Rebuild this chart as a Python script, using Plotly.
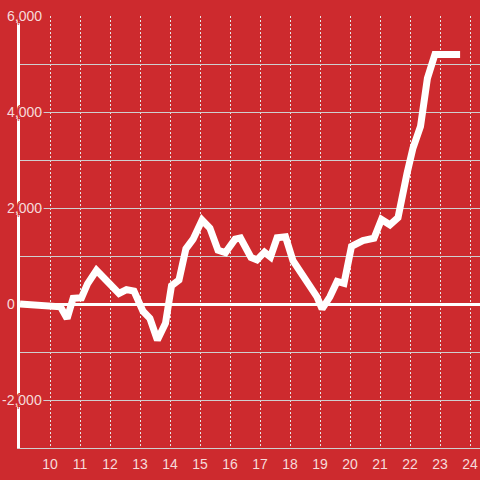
import plotly.graph_objects as go

# ---- data ----
x_vals = [9.0, 9.95, 10.35, 10.57, 10.77, 11.05, 11.25, 11.55, 11.9, 12.3,
          12.55, 12.8, 13.1, 13.33, 13.58, 13.85, 14.05, 14.3, 14.53, 14.77,
          15.07, 15.33, 15.6, 15.85, 16.17, 16.35, 16.7, 16.9, 17.15, 17.35,
          17.57, 17.85, 18.1, 18.43, 18.67, 18.9, 19.07, 19.33, 19.57, 19.8,
          20.05, 20.43, 20.8, 21.05, 21.33, 21.6, 21.9, 22.1, 22.35, 22.58,
          22.83, 23.67]
y_vals = [0, -20, -60, -300, 120, 130, 420, 700, 470, 220,
          300, 270, -150, -300, -750, -400, 380, 500, 1150, 1350,
          1750, 1580, 1120, 1070, 1350, 1375, 970, 920, 1080, 980,
          1380, 1400, 900, 600, 400, 150, -100, 150, 470, 430,
          1200, 1320, 1370, 1760, 1650, 1800, 2720, 3250, 3700, 4700,
          5200, 5200]

x_ticks = [10, 11, 12, 13, 14, 15, 16, 17, 18, 19, 20, 21, 22, 23, 24]
x_tick_labels = [str(v) for v in x_ticks]
y_ticks = [6000, 4000, 2000, 0, -2000]
y_tick_labels = ["6,000", "4,000", "2,000", "0", "-2,000"]

# ---- styling ----
BG = "#cd2a2e"
LABEL = "#f6dada"
FONT = "'Liberation Sans', Arial, sans-serif"
L, R, T, B = 20, 0, 16, 32
W = H = 480
halo = ", ".join(f"{BG} {dx}px {dy}px 0" for dx, dy in
                 [(2, 0), (-2, 0), (0, 2), (0, -2), (2, 2), (-2, -2), (2, -2), (-2, 2)])

fig = go.Figure()
fig.add_trace(go.Scatter(x=x_vals, y=y_vals, mode="lines",
                         line=dict(color="white", width=7),
                         hoverinfo="skip", showlegend=False))

# y labels drawn over the plot with a background-coloured halo
plot_w = W - L - R
for v, lab in zip(y_ticks, y_tick_labels):
    right_px = 16 if v == 0 else 43
    fig.add_annotation(x=(right_px - L) / plot_w, xref="paper", xanchor="right",
                       y=v, yref="y", yanchor="middle", text=lab, showarrow=False,
                       borderpad=0,
                       font=dict(family=FONT, size=14, color=LABEL, shadow=halo))

fig.update_layout(
    width=W, height=H,
    margin=dict(l=L, r=R, t=T, b=B, pad=0),
    paper_bgcolor=BG, plot_bgcolor=BG,
    showlegend=False,
    hovermode=False,
    xaxis=dict(range=[9, 9 + plot_w / 30], tickmode="array", tickvals=x_ticks,
               ticktext=x_tick_labels, showgrid=True, gridcolor="#e6e6e6",
               gridwidth=1, griddash="2px,2px", zeroline=False,
               showline=True, linecolor="#cfcfcf", linewidth=1, ticks="",
               ticklabelstandoff=3,
               tickfont=dict(family=FONT, size=14, color=LABEL)),
    yaxis=dict(range=[-3000, 6000], dtick=1000, tick0=0, showticklabels=False,
               showgrid=True, gridcolor="#cfcfcf", gridwidth=1,
               zeroline=True, zerolinecolor="white", zerolinewidth=3,
               showline=True, linecolor="white", linewidth=3, ticks=""),
)

fig.write_html("out.html",
               config={"displayModeBar": False, "staticPlot": True},
               post_script="document.body.style.margin='0';"
                           "document.body.style.background='" + BG + "';")
